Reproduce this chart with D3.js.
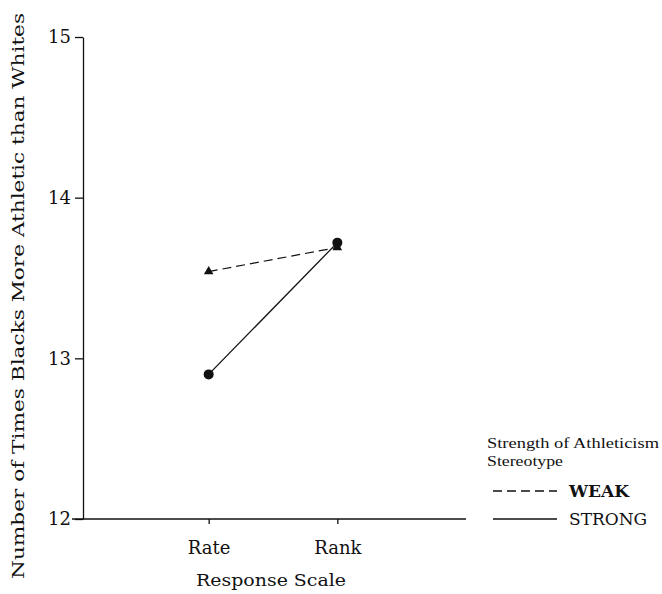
<!DOCTYPE html>
<html>
<head>
<meta charset="utf-8">
<script src="https://cdn.jsdelivr.net/npm/d3@7"></script>
<style>
  body { margin: 0; background: #fff; }
  text { fill: #111; }
</style>
</head>
<body>
<svg id="chart"></svg>
<script>
// data
const scales = ["Rate", "Rank"];
const weak = [13.54, 13.69];    // dashed, triangles
const strong = [12.90, 13.72];  // solid, circles
const yTicks = [12, 13, 14, 15];

const width = 662, height = 594;
const serif = "'DejaVu Serif', serif";

const svg = d3.select("#chart")
  .attr("width", width)
  .attr("height", height);

// scales
const x = d3.scalePoint()
  .domain(scales)
  .range([80, 466])
  .padding(1);

const y = d3.scaleLinear()
  .domain([12, 15])
  .range([519, 37]);

// y axis
const yAxisG = svg.append("g")
  .attr("transform", "translate(83,0)")
  .call(d3.axisLeft(y).tickValues(yTicks).tickFormat(d3.format("d"))
    .tickSize(8).tickSizeOuter(0).tickPadding(4));
yAxisG.selectAll("text").style("font-family", serif).style("font-size", "18px");

// x axis - domain line drawn by hand so it runs past the y axis
const xAxisG = svg.append("g")
  .attr("transform", "translate(0,519)")
  .call(d3.axisBottom(x).tickSize(5).tickPadding(17));
xAxisG.select(".domain").remove();
xAxisG.append("line")
  .attr("x1", 72).attr("x2", 466)
  .attr("stroke", "#111").attr("stroke-width", 1.3);
xAxisG.selectAll("text").style("font-family", serif).style("font-size", "18px");

svg.selectAll(".domain, .tick line").attr("stroke", "#111").attr("stroke-width", 1.3);

// axis titles
svg.append("text")
  .attr("transform", "translate(24,296) rotate(-90)")
  .attr("text-anchor", "middle")
  .attr("textLength", 566)
  .attr("lengthAdjust", "spacingAndGlyphs")
  .style("font-family", serif)
  .style("font-size", "17px")
  .text("Number of Times Blacks More Athletic than Whites");

svg.append("text")
  .attr("x", 271)
  .attr("y", 586)
  .attr("text-anchor", "middle")
  .attr("textLength", 150)
  .attr("lengthAdjust", "spacingAndGlyphs")
  .style("font-family", serif)
  .style("font-size", "17px")
  .text("Response Scale");

// lines
const line = d3.line()
  .x((d, i) => x(scales[i]))
  .y(d => y(d));

svg.append("path")
  .datum(weak)
  .attr("d", line)
  .attr("fill", "none")
  .attr("stroke", "#111")
  .attr("stroke-width", 1.2)
  .attr("stroke-dasharray", "9,5");

svg.append("path")
  .datum(strong)
  .attr("d", line)
  .attr("fill", "none")
  .attr("stroke", "#111")
  .attr("stroke-width", 1.3);

// markers
svg.selectAll(".tri")
  .data(weak)
  .join("path")
  .attr("class", "tri")
  .attr("transform", (d, i) => `translate(${x(scales[i])},${y(d)})`)
  .attr("d", d3.symbol(d3.symbolTriangle, 40))
  .attr("fill", "#111");

svg.selectAll(".dot")
  .data(strong)
  .join("circle")
  .attr("class", "dot")
  .attr("cx", (d, i) => x(scales[i]))
  .attr("cy", d => y(d))
  .attr("r", 5)
  .attr("fill", "#111");

// legend
const legend = svg.append("g");
legend.append("text")
  .attr("x", 487).attr("y", 448)
  .attr("textLength", 172)
  .attr("lengthAdjust", "spacingAndGlyphs")
  .style("font-family", "'Liberation Serif', serif")
  .style("font-size", "15px")
  .text("Strength of Athleticism");
legend.append("text")
  .attr("x", 487).attr("y", 466)
  .attr("textLength", 76)
  .attr("lengthAdjust", "spacingAndGlyphs")
  .style("font-family", "'Liberation Serif', serif")
  .style("font-size", "15px")
  .text("Stereotype");

const items = [
  { name: "WEAK", dash: "9,5", y: 491 },
  { name: "STRONG", dash: null, y: 519 }
];
items.forEach(it => {
  legend.append("line")
    .attr("x1", 493).attr("x2", 557)
    .attr("y1", it.y).attr("y2", it.y)
    .attr("stroke", "#111")
    .attr("stroke-width", 1.3)
    .attr("stroke-dasharray", it.dash);
  legend.append("text")
    .attr("x", 569).attr("y", it.y + 6)
    .style("font-family", serif)
    .style("font-size", "17px")
    .style("font-weight", it.name === "WEAK" ? "bold" : "normal")
    .text(it.name);
});
</script>
</body>
</html>
